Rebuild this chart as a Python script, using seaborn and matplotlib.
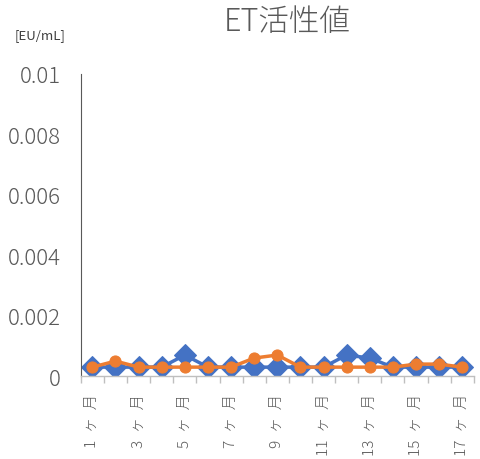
import matplotlib
matplotlib.use("Agg")
import matplotlib.pyplot as plt
import seaborn as sns
import pandas as pd

months = [f"{i}ヶ月" for i in range(1, 18)]
series_a = [0.0003, 0.0003, 0.0003, 0.0003, 0.0007, 0.0003, 0.0003, 0.0003, 0.0003,
            0.0003, 0.0003, 0.0007, 0.0006, 0.0003, 0.0003, 0.0003, 0.0003]
series_b = [0.0003, 0.0005, 0.0003, 0.0003, 0.0003, 0.0003, 0.0003, 0.0006, 0.0007,
            0.0003, 0.0003, 0.0003, 0.0003, 0.0003, 0.0004, 0.0004, 0.0003]
y_ticks = [0, 0.002, 0.004, 0.006, 0.008, 0.01]
y_labels = ["0", "0.002", "0.004", "0.006", "0.008", "0.01"]

sns.set_style("white")
plt.rcParams['font.family'] = ['Noto Sans CJK JP', 'DejaVu Sans']

df = pd.DataFrame({"month": months, "A": series_a, "B": series_b})
df["pos"] = range(len(months))

fig = plt.figure(figsize=(4.81, 4.6), dpi=100)
ax = fig.add_axes([0.168, 0.180, 0.817, 0.657])

sns.lineplot(data=df, x="pos", y="A", ax=ax, color="#4472C4", linewidth=2.5,
             marker="D", markersize=11, markeredgecolor="#4472C4", zorder=2)
sns.lineplot(data=df, x="pos", y="B", ax=ax, color="#ED7D31", linewidth=2.5,
             marker="o", markersize=8, markeredgecolor="#ED7D31", zorder=3)

ax.set_xlim(-0.5, len(months) - 0.5)
ax.set_ylim(0, 0.01)
ax.set_yticks(y_ticks)
ax.set_yticklabels(y_labels, fontsize=16, color="#595959", fontweight="light")
ax.tick_params(axis="y", length=0, pad=14.5)

spaced = [m.replace("ヶ", "\u2002ヶ\u2002") for m in months]
ax.set_xticks([p - 0.5 for p in range(len(months) + 1)], minor=True)
ax.set_xticks(list(range(0, len(months), 2)))
ax.set_xticklabels(spaced[::2], rotation=90, fontsize=11, color="#595959", fontweight="light")
ax.tick_params(axis="x", which="major", length=0, pad=12)
ax.tick_params(axis="x", which="minor", length=5, color="#BFBFBF", width=1, direction="out", bottom=True)

for s in ["top", "right"]:
    ax.spines[s].set_visible(False)
ax.spines["left"].set_color("#595959")
ax.spines["left"].set_linewidth(0.8)
ax.spines["bottom"].set_color("#BFBFBF")
ax.spines["bottom"].set_linewidth(1)
ax.set_xlabel("")
ax.set_ylabel("")

fig.text(0.597, 0.952, "ET活性値", ha="center", va="center", fontsize=22, color="#595959", fontweight="light")
fig.text(0.084, 0.923, "[EU/mL]", ha="center", va="center", fontsize=9.5, color="#404040")

fig.savefig("out.png", dpi=100)
